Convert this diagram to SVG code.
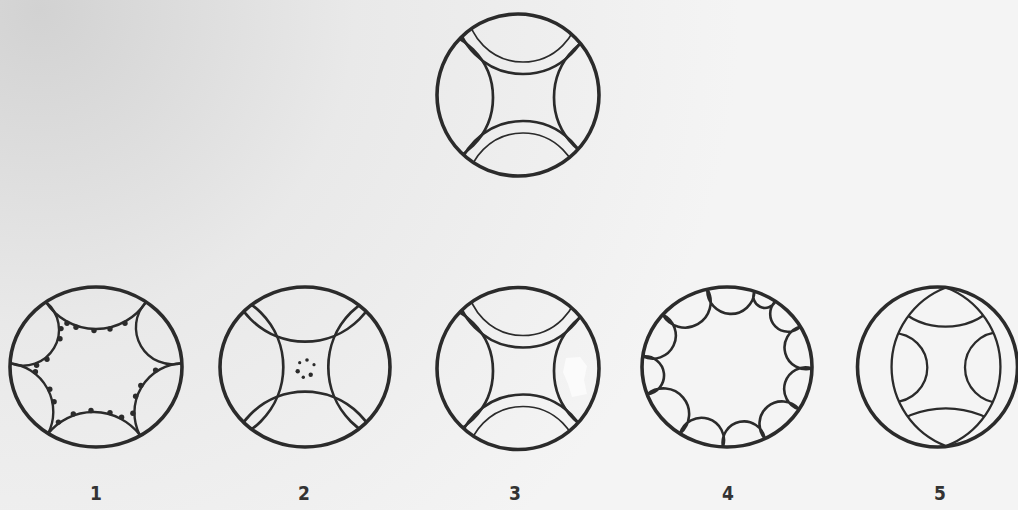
<svg xmlns="http://www.w3.org/2000/svg" width="1018" height="510" viewBox="0 0 1018 510">
<style>
.bg{fill:url(#paper)}
.outer{fill:none;stroke:#2b2b2b;stroke-width:3.6}
.thick{fill:none;stroke:#2b2b2b;stroke-width:2.7}
.scal{fill:none;stroke:#2b2b2b;stroke-width:2.6;stroke-linejoin:round}
.arc1{fill:none;stroke:#2b2b2b;stroke-width:2.4}
.thin{fill:none;stroke:#2b2b2b;stroke-width:1.7}
.mid{fill:none;stroke:#2b2b2b;stroke-width:2.3}
.dot{fill:#2b2b2b}
.lbl{font-family:"Liberation Sans Narrow","DejaVu Sans Condensed","Liberation Sans",sans-serif;font-weight:bold;font-size:19px;fill:#333;text-anchor:middle}
</style>
<defs>
<radialGradient id="paper" gradientUnits="userSpaceOnUse" cx="40" cy="10" r="700">
<stop offset="0" stop-color="#d2d2d2"/>
<stop offset="0.45" stop-color="#e9e9e9"/>
<stop offset="1" stop-color="#f4f4f4"/>
</radialGradient>
<clipPath id="cTop"><circle cx="518" cy="95" r="81"/></clipPath>
<clipPath id="c3"><circle cx="518" cy="368.5" r="81"/></clipPath>
<clipPath id="c2"><ellipse cx="305" cy="367" rx="85" ry="80"/></clipPath>
<clipPath id="c4"><ellipse cx="727" cy="367" rx="85" ry="80"/></clipPath>
<clipPath id="c5"><path d="M946,287.5 A84.9,84.9 0 0 0 946,446 A84.9,84.9 0 0 0 946,287.5 Z"/></clipPath>
</defs>
<rect class="bg" x="0" y="0" width="1018" height="510"/>

<g id="fig-top">
<g clip-path="url(#cTop)">
<circle class="thick" cx="523" cy="6" r="68"/>
<circle class="thick" cx="523" cy="189" r="68"/>
<circle class="thick" cx="425" cy="97.5" r="68"/>
<circle class="thick" cx="622" cy="97.5" r="68"/>
<circle class="thin" cx="523" cy="6" r="56"/>
<circle class="thin" cx="523" cy="189" r="56"/>
</g>
<circle class="outer" cx="518" cy="95" r="81"/>
</g>

<g id="fig-1">
<path class="arc1" d="M45.9,302 A60,60 0 0 0 146.1,302"/>
<path class="arc1" d="M45.9,302 A35.9,35.9 0 0 1 10.1,363.2"/>
<path class="arc1" d="M146.1,302 A36.9,36.9 0 0 0 181.9,363.2"/>
<path class="arc1" d="M10.1,363.2 A48.9,48.9 0 0 1 48.2,433.5"/>
<path class="arc1" d="M181.9,363.2 A49.5,49.5 0 0 0 139.5,434.5"/>
<path class="arc1" d="M48.2,433.5 A58.4,58.4 0 0 1 139.5,434.5"/>
<g class="dot">
<circle cx="67" cy="323.3" r="2.7"/><circle cx="76" cy="327.2" r="2.7"/><circle cx="94" cy="330.6" r="2.7"/><circle cx="110" cy="329" r="2.7"/><circle cx="125" cy="323.3" r="2.7"/>
<circle cx="61" cy="328.6" r="2.7"/><circle cx="60" cy="338.8" r="2.7"/><circle cx="47" cy="359.3" r="2.7"/><circle cx="36.6" cy="365.2" r="2.7"/>
<circle cx="35.4" cy="371.8" r="2.7"/><circle cx="49.8" cy="389.3" r="2.7"/><circle cx="54.1" cy="401.8" r="2.7"/>
<circle cx="58.4" cy="422.1" r="2.7"/><circle cx="73.3" cy="414" r="2.7"/><circle cx="91" cy="410.5" r="2.7"/><circle cx="110" cy="412.6" r="2.7"/><circle cx="121.6" cy="417.3" r="2.7"/>
<circle cx="132.9" cy="413.3" r="2.7"/><circle cx="135.6" cy="396.3" r="2.7"/><circle cx="140.8" cy="385.4" r="2.7"/><circle cx="155.6" cy="370.1" r="2.7"/>
</g>
<ellipse class="outer" cx="96" cy="367" rx="86" ry="80"/>
</g>

<g id="fig-2">
<g clip-path="url(#c2)">
<circle class="thick" cx="305" cy="264.7" r="77"/>
<circle class="thick" cx="305" cy="468.7" r="77"/>
<circle class="thick" cx="206.3" cy="367" r="77"/>
<circle class="thick" cx="405.3" cy="367" r="77"/>
</g>
<g class="dot">
<circle cx="299.7" cy="362.7" r="1.6"/><circle cx="307" cy="360" r="1.8"/><circle cx="314" cy="364.7" r="1.6"/>
<circle cx="297.7" cy="371.3" r="2.2"/><circle cx="303.3" cy="377.3" r="1.7"/><circle cx="310.7" cy="374.7" r="2.2"/>
</g>
<ellipse class="outer" cx="305" cy="367" rx="85" ry="80"/>
</g>

<g id="fig-3">
<path d="M566,358 L580,357 L587,366 L584,380 L587,394 L572,397 L568,384 L563,372 Z" fill="#fbfbfb"/>
<g clip-path="url(#c3)">
<circle class="thick" cx="523" cy="279.5" r="68"/>
<circle class="thick" cx="523" cy="462.5" r="68"/>
<circle class="thick" cx="425" cy="371" r="68"/>
<circle class="thick" cx="622" cy="371" r="68"/>
<circle class="thin" cx="523" cy="279.5" r="56"/>
<circle class="thin" cx="523" cy="462.5" r="56"/>
</g>
<circle class="outer" cx="518" cy="368.5" r="81"/>
</g>

<g id="fig-4">
<path class="scal" clip-path="url(#c4)" d="M707.3,289.2 A1,1 0 0 0 754.5,291.3 A1,1 0 0 0 775.5,301.3 A1,1 0 0 0 800.4,326.6 A1,1 0 0 0 812,368.4 A1,1 0 0 0 799.2,409.3 A1,1 0 0 0 764.9,438.6 A1,1 0 0 0 723,446.9 A1,1 0 0 0 680,433.6 A1,1 0 0 0 647.1,394.4 A1,1 0 0 0 642.7,356.4 A1,1 0 0 0 662.7,314.7 A1,1 0 0 0 707.3,289.2"/>
<ellipse class="outer" cx="727" cy="367" rx="85" ry="80"/>
</g>

<g id="fig-5">
<g clip-path="url(#c5)">
<circle class="mid" cx="945.5" cy="257.3" r="69.4"/>
<circle class="mid" cx="945.8" cy="503.3" r="95"/>
<circle class="mid" cx="892.9" cy="367.5" r="34.4"/>
<circle class="mid" cx="1000.3" cy="367.5" r="35.3"/>
</g>
<path class="mid" d="M946,287.5 A84.9,84.9 0 0 0 946,446 A84.9,84.9 0 0 0 946,287.5 Z"/>
<circle class="outer" cx="937.5" cy="367" r="80"/>
</g>

<g id="labels">
<text class="lbl" x="96" y="500">1</text>
<text class="lbl" x="304" y="500">2</text>
<text class="lbl" x="515" y="500">3</text>
<text class="lbl" x="728" y="500">4</text>
<text class="lbl" x="940" y="500">5</text>
</g>
</svg>
